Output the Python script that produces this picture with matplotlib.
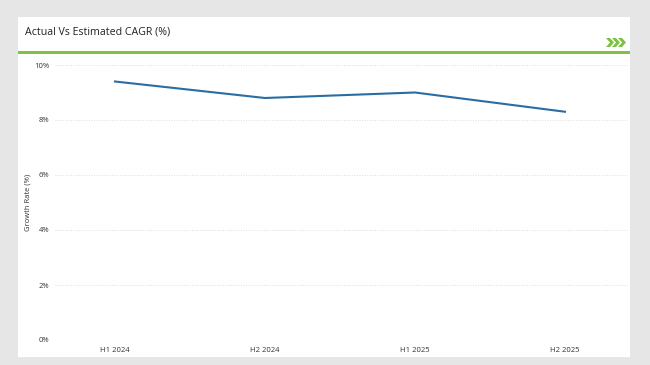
import matplotlib.pyplot as plt
from matplotlib.patches import Rectangle, Polygon

periods = ["H1 2024", "H2 2024", "H1 2025", "H2 2025"]
cagr = [9.4, 8.8, 9.0, 8.3]
yticks = [0, 2, 4, 6, 8, 10]

plt.rcParams["font.family"] = ["Open Sans", "DejaVu Sans"]

W, H = 650, 365
fig = plt.figure(figsize=(6.5, 3.65), dpi=100)
fig.patch.set_facecolor("#e6e6e6")


def px(x, y):
    # pixel coords (top-left origin) -> figure fraction
    return x / W, 1 - y / H


# white card
fig.patches.append(Rectangle(px(18, 357), 612 / W, 340 / H, transform=fig.transFigure,
                             facecolor="white", edgecolor="none", zorder=0))
# green rule under the title
fig.patches.append(Rectangle(px(18, 53.5), 612 / W, 3 / H, transform=fig.transFigure,
                             facecolor="#7dc242", edgecolor="none", zorder=1))

fig.text(*px(25, 32), "Actual Vs Estimated CAGR (%)", fontsize=7.7, color="#222222",
         va="center", ha="left")

# green chevrons top-right
for i in range(3):
    x0 = 606 + i * 6
    pts = [(x0, 38), (x0 + 4, 38), (x0 + 8, 42.5), (x0 + 4, 47), (x0, 47), (x0 + 4, 42.5)]
    fig.patches.append(Polygon([px(a, b) for a, b in pts], closed=True, transform=fig.transFigure,
                               facecolor="#7dc242", edgecolor="none", zorder=2))

ax = fig.add_axes([55 / W, 1 - 340 / H, (628 - 55) / W, 275 / H])
ax.set_zorder(5)
ax.set_facecolor("none")
x = list(range(len(periods)))
ax.plot(x, cagr, color="#2b6ca3", linewidth=1.5)

ax.set_xlim(-0.4, 3.42)
ax.set_ylim(0, 10)
ax.set_yticks(yticks)
ax.set_yticklabels([f"{v}%" for v in yticks])
ax.set_xticks(x)
ax.set_xticklabels(periods)
ax.tick_params(axis="both", length=0, labelsize=5.5, labelcolor="#333333")
ax.tick_params(axis="x", pad=5)
ax.tick_params(axis="y", pad=4)
ax.grid(axis="y", color="#dddddd", linestyle=":", linewidth=0.7)
for s in ax.spines.values():
    s.set_visible(False)
ax.set_ylabel("Growth Rate (%)", fontsize=5.5, color="#333333", labelpad=2)

fig.savefig("out.png", dpi=100, facecolor=fig.get_facecolor())
